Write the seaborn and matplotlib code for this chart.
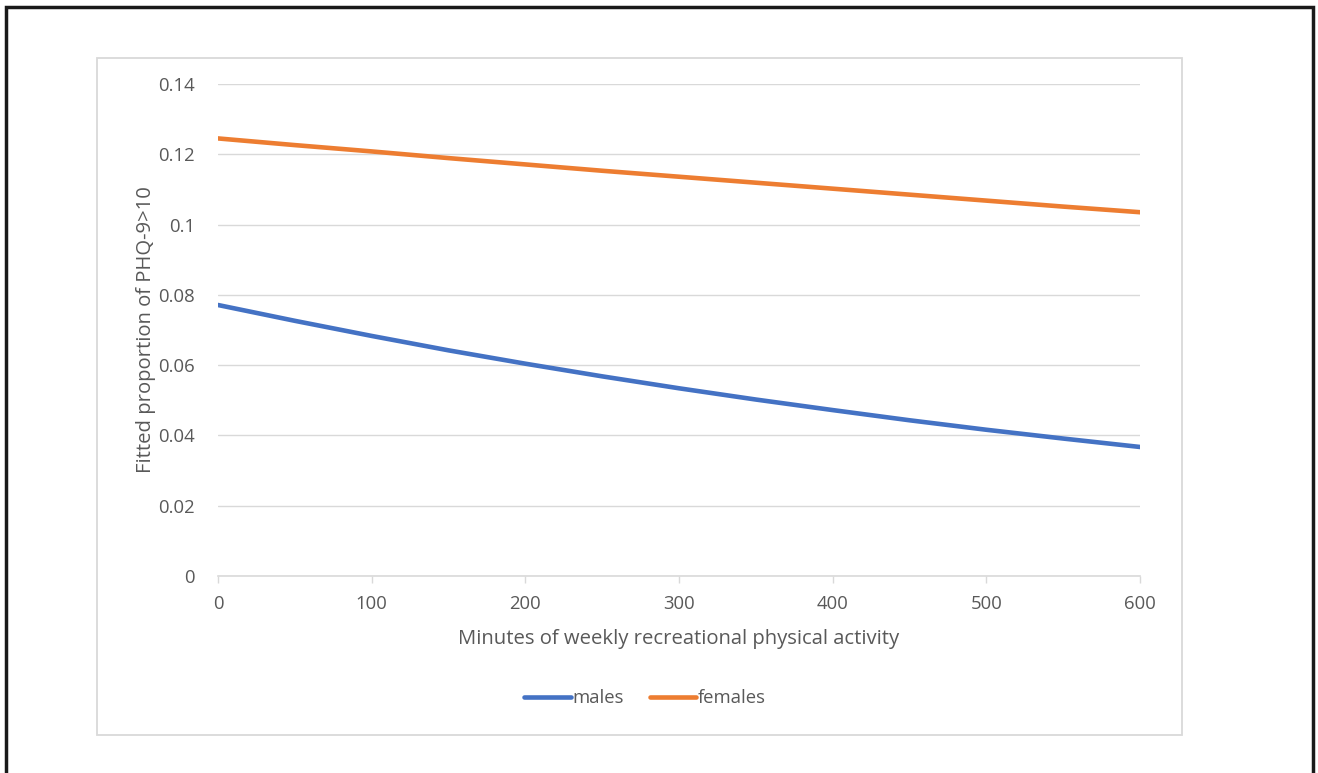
import matplotlib
matplotlib.use("Agg")
import matplotlib.pyplot as plt
import matplotlib.ticker as mticker
from matplotlib.patches import Rectangle
import pandas as pd
import seaborn as sns

# fitted proportions
minutes = [0, 50, 100, 150, 200, 250, 300, 350, 400, 450, 500, 550, 600]
males = [0.0771, 0.0726, 0.0683, 0.0642, 0.0604, 0.0568, 0.0534,
         0.0502, 0.0472, 0.0443, 0.0416, 0.0391, 0.0367]
females = [0.1245, 0.1226, 0.1208, 0.1189, 0.1171, 0.1153, 0.1136,
           0.1119, 0.1102, 0.1085, 0.1068, 0.1051, 0.1035]
x_ticks = [0, 100, 200, 300, 400, 500, 600]
y_ticks = [0, 0.02, 0.04, 0.06, 0.08, 0.1, 0.12, 0.14]

df = pd.DataFrame({
    "minutes": minutes + minutes,
    "prop": males + females,
    "sex": ["males"] * len(minutes) + ["females"] * len(minutes),
})

sns.set_style("white")
plt.rcParams["font.family"] = ["Open Sans", "DejaVu Sans"]
text_col = "#595959"
grid_col = "#d9d9d9"

fig = plt.figure(figsize=(13.18, 7.73), dpi=100)
ax = fig.add_axes([0.1654, 0.2549, 0.6996, 0.6365])

sns.lineplot(data=df, x="minutes", y="prop", hue="sex",
             palette={"males": "#4472C4", "females": "#ED7D31"},
             linewidth=3.3, ax=ax, legend=False)

ax.set_xlim(0, 600)
ax.set_ylim(0, 0.14)
ax.set_xticks(x_ticks)
ax.set_yticks(y_ticks)
ax.yaxis.set_major_formatter(mticker.FuncFormatter(lambda v, p: "%g" % round(v, 2)))
ax.grid(axis="y", color=grid_col, linewidth=1)
ax.set_axisbelow(True)
for s in ["top", "right", "left"]:
    ax.spines[s].set_visible(False)
ax.spines["bottom"].set_color(grid_col)
ax.spines["bottom"].set_linewidth(1.2)
ax.tick_params(axis="x", bottom=True, length=5, width=1, color=grid_col,
               labelsize=13.3, labelcolor=text_col, pad=9)
ax.tick_params(axis="y", left=False, labelsize=13.3, labelcolor=text_col, pad=13)

ax.set_xlabel("Minutes of weekly recreational physical activity",
              fontsize=14.6, color=text_col, labelpad=11)
ax.set_ylabel("Fitted proportion of PHQ-9>10", fontsize=14.6, color=text_col,
              labelpad=2)

# legend
handles = [plt.Line2D([], [], color="#4472C4", linewidth=3.3, solid_capstyle="round"),
           plt.Line2D([], [], color="#ED7D31", linewidth=3.3, solid_capstyle="round")]
leg = fig.legend(handles, ["males", "females"], loc="center",
                 bbox_to_anchor=(0.4895, 0.097), ncol=2, frameon=False,
                 fontsize=13.3, handlelength=2.5, handletextpad=0.1,
                 columnspacing=1.4)
for t in leg.get_texts():
    t.set_color(text_col)

# chart area frame and outer black frame
fig.patches.append(Rectangle((0.0736, 0.0492), 0.8232, 0.8758,
                             transform=fig.transFigure, fill=False,
                             edgecolor=grid_col, linewidth=1.3))
fig.patches.append(Rectangle((0.0046, -0.1), 0.9917, 1.091,
                             transform=fig.transFigure, fill=False,
                             edgecolor="#1a1a1a", linewidth=2.5))

fig.savefig("out.png", dpi=100)
